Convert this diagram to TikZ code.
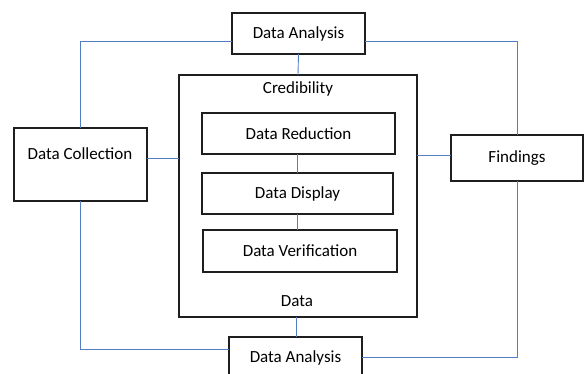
\documentclass[tikz,border=0pt]{standalone}
\usepackage{fontspec}
\setmainfont{Carlito}
\usetikzlibrary{calc}
\definecolor{linkblue}{RGB}{84,126,196}
\definecolor{boxline}{RGB}{30,30,30}
\begin{document}
\begin{tikzpicture}[x=1pt,y=-1pt,
  box/.style={draw=boxline,line width=1.4pt,fill=white,inner sep=0pt,outer sep=0pt},
  link/.style={draw=linkblue,line width=0.9pt},
  lbl/.style={font=\fontsize{17}{20}\selectfont,inner sep=0pt}]
\useasboundingbox (0,0) rectangle (587,374);
\clip (0,0) rectangle (587,374);
% boxes
\node[box,minimum width=133pt,minimum height=41pt] (da1) at (298.5,33.5) {};
\node[lbl] (da1t) at (298.5,34) {Data Analysis};
\node[box,minimum width=133pt,minimum height=73pt] (dc) at (80.5,164.5) {};
\node[lbl] (dct) at (80,154) {Data Collection};
\node[box,minimum width=238pt,minimum height=242pt] (big) at (298,196) {};
\node[lbl] (cred) at (298,89) {Credibility};
\node[lbl] (data) at (297,301) {Data};
\node[box,lbl,minimum width=193pt,minimum height=41pt] (dr) at (298.5,133.5) {Data Reduction};
\node[box,lbl,minimum width=191pt,minimum height=41pt] (dd) at (297.5,193.5) {Data Display};
\node[box,lbl,minimum width=194pt,minimum height=42pt] (dv) at (300,251) {Data Verification};
\node[box,lbl,minimum width=132pt,minimum height=46pt] (fd) at (517,158) {Findings};
\node[box,minimum width=133pt,minimum height=53pt] (da2) at (295.5,363.5) {};
\node[lbl] (da2t) at (295.5,358) {Data Analysis};
% connectors
\draw[link] ($(da1.west)+(0,7.5)$) -| (dc.north);
\draw[link] ($(da1.east)+(0,7.5)$) -| (fd.north);
\draw[link] (da1.south) -- (big.north);
\draw[link] ($(dc.east)+(0,-6.5)$) -- (big.west |- {$(dc.east)+(0,-6.5)$});
\draw[link] ($(big.east)+(0,-41)$) -- (fd.west |- {$(big.east)+(0,-41)$});
\draw[link] ($(dr.south)+(-1.5,0)$) -- ($(dd.north)+(-0.5,0)$);
\draw[link] ($(dd.south)+(-0.5,0)$) -- ($(dv.north)+(-3,0)$);
\draw[link] ($(big.south)+(-2,0)$) -- ($(da2.north)+(0.5,0)$);
\draw[link] ($(da2.west)+(0,-14.5)$) -| (dc.south);
\draw[link] ($(da2.east)+(0,-6.5)$) -| (fd.south);
\end{tikzpicture}
\end{document}
